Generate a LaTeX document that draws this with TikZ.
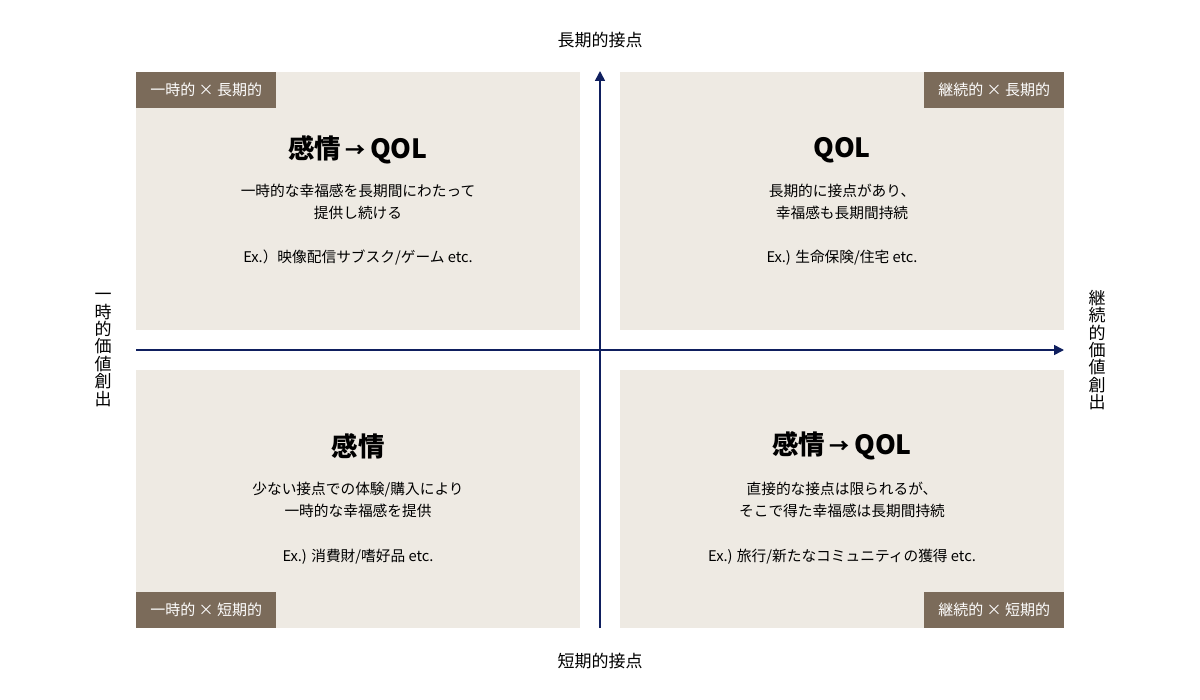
\documentclass[tikz,border=0pt]{standalone}
\usepackage{fontspec}
\setmainfont{Noto Sans CJK JP}
\usepackage{xcolor}
\usepackage{tikz}
\usetikzlibrary{arrows.meta}
\usetikzlibrary{positioning}

\definecolor{boxbg}{HTML}{EEEAE3}
\definecolor{tagbg}{HTML}{7B6B5A}
\definecolor{axisblue}{HTML}{0F1F5F}

\newcommand{\smallarr}{\,\raisebox{1.5pt}{\fontsize{20}{20}\selectfont →}\,}

\begin{document}
\begin{tikzpicture}[x=1pt,y=-1pt,node distance=6pt,
  quad/.style={rectangle,fill=boxbg,minimum width=444pt,minimum height=258pt,anchor=north west,inner sep=0pt},
  tag/.style={rectangle,fill=tagbg,text=white,minimum width=140pt,minimum height=36pt,inner sep=0pt,font=\fontsize{15}{16}\selectfont},
  title/.style={font=\fontsize{26.5}{28}\selectfont\bfseries},
  desc/.style={align=center,font=\fontsize{14.7}{21.5}\selectfont},
  axlabel/.style={font=\fontsize{17}{20}\selectfont},
  side/.style={align=center,font=\fontsize{17}{17.4}\selectfont},
  axis/.style={draw=axisblue,line width=1.6pt,-{Triangle[width=10pt,length=10pt]}}]

  \useasboundingbox[fill=white] (0,0) rectangle (1200,700);

  % quadrants
  \node[quad] (tl) at (136,72) {};
  \node[quad] (tr) at (620,72) {};
  \node[quad] (bl) at (136,370) {};
  \node[quad] (br) at (620,370) {};

  % corner tags
  \node[tag,anchor=north west] (tltag) at (tl.north west) {一時的 × 長期的};
  \node[tag,anchor=north east] (trtag) at (tr.north east) {継続的 × 長期的};
  \node[tag,anchor=south west] (bltag) at (bl.south west) {一時的 × 短期的};
  \node[tag,anchor=south east] (brtag) at (br.south east) {継続的 × 短期的};

  % top left
  \node[title] (tlt) at (358,150) {感情\smallarr QOL};
  \node[desc] (tld) at (358,202) {一時的な幸福感を長期間にわたって\\提供し続ける};
  \node[desc] (tle) at (358,258) {Ex.）映像配信サブスク/ゲーム etc.};

  % top right
  \node[title] (trt) at (842,150) {QOL};
  \node[desc] (trd) at (842,202) {長期的に接点があり、\\幸福感も長期間持続};
  \node[desc] (tre) at (842,258) {Ex.) 生命保険/住宅 etc.};

  % bottom left
  \node[title] (blt) at (358,446) {感情};
  \node[desc] (bld) at (358,500) {少ない接点での体験/購入により\\一時的な幸福感を提供};
  \node[desc] (ble) at (358,557) {Ex.) 消費財/嗜好品 etc.};

  % bottom right
  \node[title] (brt) at (842,446) {感情\smallarr QOL};
  \node[desc] (brd) at (842,500) {直接的な接点は限られるが、\\そこで得た幸福感は長期間持続};
  \node[desc] (bre) at (842,557) {Ex.) 旅行/新たなコミュニティの獲得 etc.};

  % axes
  \coordinate (ybot) at (600,628);
  \coordinate (ytop) at (600,71);
  \coordinate (xleft) at (136,350);
  \coordinate (xright) at (1064,350);
  \draw[axis] (ybot) -- (ytop);
  \draw[axis] (xleft) -- (xright);

  % axis labels
  \node[axlabel] (long) at (600,40) {長期的接点};
  \node[axlabel] (short) at (600,661) {短期的接点};
  \node[side] (once) at (103,350) {一\\時\\的\\価\\値\\創\\出};
  \node[side] (cont) at (1097,350) {継\\続\\的\\価\\値\\創\\出};
\end{tikzpicture}
\end{document}
